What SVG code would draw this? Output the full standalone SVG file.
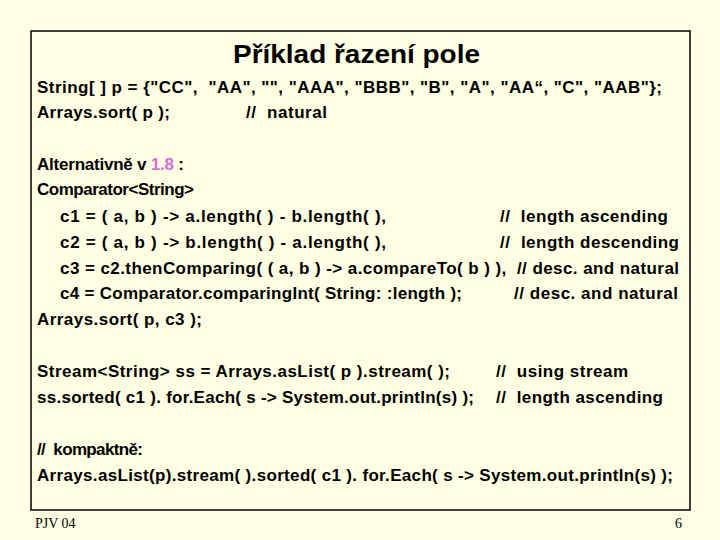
<svg xmlns="http://www.w3.org/2000/svg" width="720" height="540" viewBox="0 0 720 540">
<style>
text{font-family:"Liberation Sans",Arial,sans-serif;font-weight:bold;font-size:17px;fill:#000;white-space:pre}
.t{font-size:25px}
.f{font-family:"Liberation Serif","Times New Roman",serif;font-weight:normal;font-size:14px}
</style>
<rect width="720" height="540" fill="#FFFFE3"/>
<rect x="31" y="31" width="659" height="479" fill="none" stroke="#000" stroke-width="1.5"/>
<text class="t" x="233" y="63" textLength="247" lengthAdjust="spacingAndGlyphs">Příklad řazení pole</text>
<text x="37" y="93" textLength="625">String[ ] p = {"CC",  "AA", "", "AAA", "BBB", "B", "A", "AA“, "C", "AAB"};</text>
<text x="37" y="118" textLength="133">Arrays.sort( p );</text>
<text x="246" y="118" textLength="81">//  natural</text>
<text x="37" y="170" textLength="147">Alternativně v <tspan fill="#D96BD9">1.8</tspan> :</text>
<text x="37" y="195" textLength="157">Comparator&lt;String&gt;</text>
<text x="60" y="222" textLength="326">c1 = ( a, b ) -&gt; a.length( ) - b.length( ),</text>
<text x="500" y="222" textLength="168">//  length ascending</text>
<text x="60" y="248" textLength="326">c2 = ( a, b ) -&gt; b.length( ) - a.length( ),</text>
<text x="500" y="248" textLength="179">//  length descending</text>
<text x="60" y="274" textLength="619">c3 = c2.thenComparing( ( a, b ) -&gt; a.compareTo( b ) ),  // desc. and natural</text>
<text x="60" y="299" textLength="402">c4 = Comparator.comparingInt( String: :length );</text>
<text x="514" y="299" textLength="164">// desc. and natural</text>
<text x="37" y="325" textLength="165">Arrays.sort( p, c3 );</text>
<text x="37" y="377" textLength="413">Stream&lt;String&gt; ss = Arrays.asList( p ).stream( );</text>
<text x="496" y="377" textLength="132">//  using stream</text>
<text x="37" y="403" textLength="437">ss.sorted( c1 ). for.Each( s -&gt; System.out.println(s) );</text>
<text x="496" y="403" textLength="167">//  length ascending</text>
<text x="37" y="455" textLength="106">//  kompaktně:</text>
<text x="37" y="481" textLength="636">Arrays.asList(p).stream( ).sorted( c1 ). for.Each( s -&gt; System.out.println(s) );</text>
<text class="f" x="35" y="528">PJV 04</text>
<text class="f" x="682" y="528" text-anchor="end">6</text>
</svg>
